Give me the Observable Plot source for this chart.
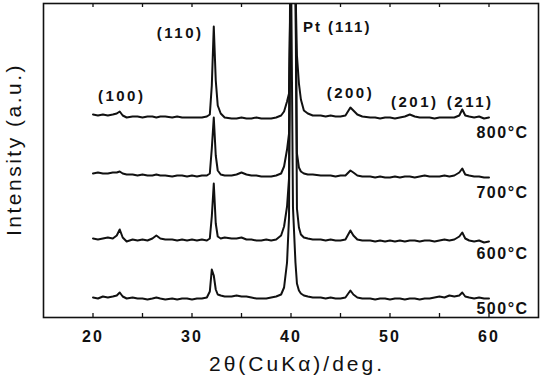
<!DOCTYPE html>
<html><head><meta charset="utf-8">
<script src="https://cdn.jsdelivr.net/npm/d3@7"></script>
<script src="https://cdn.jsdelivr.net/npm/@observablehq/plot@0.6"></script>
<style>
html,body{margin:0;padding:0;background:#fff;}
</style>
</head><body><div id="chart"></div>
<script>
// 2θ grid (deg)
const twoTheta = [20.0,20.5,21.0,21.5,22.0,22.4,22.7,23.0,23.4,24.0,24.5,25.0,25.5,26.0,26.4,26.8,27.3,28.0,28.5,29.0,29.5,30.0,30.5,31.0,31.5,31.8,32.0,32.2,32.4,32.6,32.9,33.3,34.0,34.5,35.0,35.5,36.0,36.5,37.0,37.5,38.0,38.5,39.0,39.3,39.6,39.8,39.95,40.2,40.45,40.6,40.8,41.0,41.3,41.7,42.2,43.0,43.5,44.0,44.5,45.0,45.5,46.0,46.3,46.7,47.2,48.0,48.5,49.0,49.5,50.0,50.5,51.0,51.5,52.0,52.5,53.0,53.5,54.0,54.5,55.0,55.5,56.0,56.5,57.0,57.3,57.6,58.0,58.5,59.0,59.5,60.0];

// intensities (a.u.) relative to each pattern's baseline
const i500 = [0,-1,1,0,1,2,5,1,-1,0,-1,-1,-2,-1,0,-1,-2,-1,-2,-1,-1,-2,-1,-1,0,6,28,22,8,3,2,1,1,2,1,1,0,-1,-1,-1,0,1,3,10,35,80,400,90,35,14,7,4,2,1,0,0,-1,0,-1,-1,0,7,3,0,-1,-1,-2,-1,-1,-2,-1,-1,-2,-1,-1,-2,-1,-1,0,1,0,2,1,2,5,1,0,-1,0,-1,-1];
const i600 = [0,-1,0,1,0,3,9,1,-3,-1,-2,-1,-2,0,3,0,-1,-1,-2,-1,-2,-1,-2,-1,-2,0,22,55,15,2,0,1,0,0,1,-1,-1,-2,-2,-1,-2,-1,3,12,32,60,260,400,260,30,11,4,1,0,-1,-1,-2,-1,-2,-2,-1,8,3,-1,-2,-2,-3,-2,-3,-2,-3,-2,-3,-2,-2,-3,-2,-2,-3,-2,-1,-2,-1,2,6,0,-2,-3,-2,-4,-3];
const i700 = [0,1,0,0,1,1,2,0,-1,-1,-2,-1,-2,-2,-1,-2,-2,-3,-2,-2,-3,-2,-3,-2,-2,0,25,56,18,3,-1,-2,-2,-1,1,-1,-2,-2,-3,-3,-3,-2,0,7,24,40,200,400,200,20,6,2,0,-1,-1,-2,-2,-2,-3,-2,-2,3,1,-2,-3,-3,-4,-3,-4,-4,-3,-4,-3,-3,-4,-3,-2,-3,-3,-3,-2,-3,-2,1,5,-1,-2,-3,-3,-4,-4];
const i800 = [1,0,1,0,1,2,4,0,-2,-1,-1,-2,-1,-1,-2,-1,-1,-2,-1,-2,-2,-2,-2,-2,-1,1,30,89,35,10,2,-2,-3,-3,-2,-3,-3,-2,-3,-3,-3,-2,0,4,14,22,130,400,130,60,32,16,5,2,0,0,-1,0,-1,-1,0,8,5,1,-1,-2,-2,-3,-2,-2,-3,-2,-1,1,-1,-2,-2,-2,-3,-2,-2,-2,-2,0,6,0,-1,-2,-1,-3,-2];

const temperatures = ["500°C","600°C","700°C","800°C"];
const offsets = [20, 79, 144, 202];
const tempLabelY = [9, 64, 125, 185];

const peakLabels = ["(100)", "(110)", "(200)", "(201)", "(211)"];
const peakLabelX = [22.9, 28.8, 46.0, 52.5, 58.1];
const peakLabelY = [221, 284, 224, 215, 215];
const ptLabel = ["Pt (111)"];
const ptLabelX = [41.2];
const ptLabelY = [290];

const xTicks = [20, 30, 40, 50, 60];
const xTicksAll = [20, 25, 30, 35, 40, 45, 50, 55, 60];

const series = [i500, i600, i700, i800];
const rows = series.flatMap((s, k) => s.map((v, j) => ({x: twoTheta[j], y: v + offsets[k], t: temperatures[k]})));

const font = "'Liberation Sans', Arial, Helvetica, sans-serif";
const ink = "#111";

const chart = Plot.plot({
  width: 543, height: 383,
  marginLeft: 43, marginRight: 5, marginTop: 3, marginBottom: 66,
  x: {domain: [15, 65], label: null},
  y: {domain: [0, 314], axis: null, label: null},
  style: {fontFamily: font, background: "#fff", color: ink, overflow: "visible"},
  marks: [
    Plot.frame({stroke: ink, strokeWidth: 1.6}),
    Plot.ruleX(xTicksAll, {x: d => d, y1: 0, y2: 4, stroke: ink, strokeWidth: 1.3}),
    Plot.ruleX(xTicksAll, {x: d => d, y1: 314, y2: 310, stroke: ink, strokeWidth: 1.3}),
    Plot.line(rows, {x: "x", y: "y", z: "t", stroke: ink, strokeWidth: 2, clip: true}),
    Plot.axisX({ticks: xTicks, tickSize: 0, tickPadding: 13, fontSize: 16, fontWeight: "bold", label: null}),
    Plot.text(peakLabels, {x: (d, i) => peakLabelX[i], y: (d, i) => peakLabelY[i], text: d => d, fontSize: 15, fontWeight: "bold", fill: ink}),
    Plot.text(ptLabel, {x: (d, i) => ptLabelX[i], y: (d, i) => ptLabelY[i], text: d => d, textAnchor: "start", fontSize: 15, fontWeight: "bold", fill: ink}),
    Plot.text(temperatures, {x: 64.0, y: (d, i) => tempLabelY[i], text: d => d, textAnchor: "end", fontSize: 16, fontWeight: "bold", fill: ink}),
    Plot.text(["2θ(CuKα)/deg."], {frameAnchor: "bottom", dx: 6, dy: 53, text: d => d, textAnchor: "middle", fontSize: 21, fill: ink}),
    Plot.text(["Intensity (a.u.)"], {frameAnchor: "left", dx: -29, dy: -11, rotate: -90, text: d => d, textAnchor: "middle", lineAnchor: "middle", fontSize: 21, fill: ink})
  ]
});

document.getElementById("chart").appendChild(chart);

// letter spacing to match the wide lettering of the original
const spacing = [2.5, 2, 1.5, 3, 2.5];
d3.select(chart).selectAll('g[aria-label="text"]').each(function(d, i) {
  d3.select(this).selectAll("text").style("letter-spacing", spacing[i] + "px");
});
d3.select(chart).selectAll('g[aria-label="x-axis tick label"] text').style("letter-spacing", "2px");
</script>
</body></html>
